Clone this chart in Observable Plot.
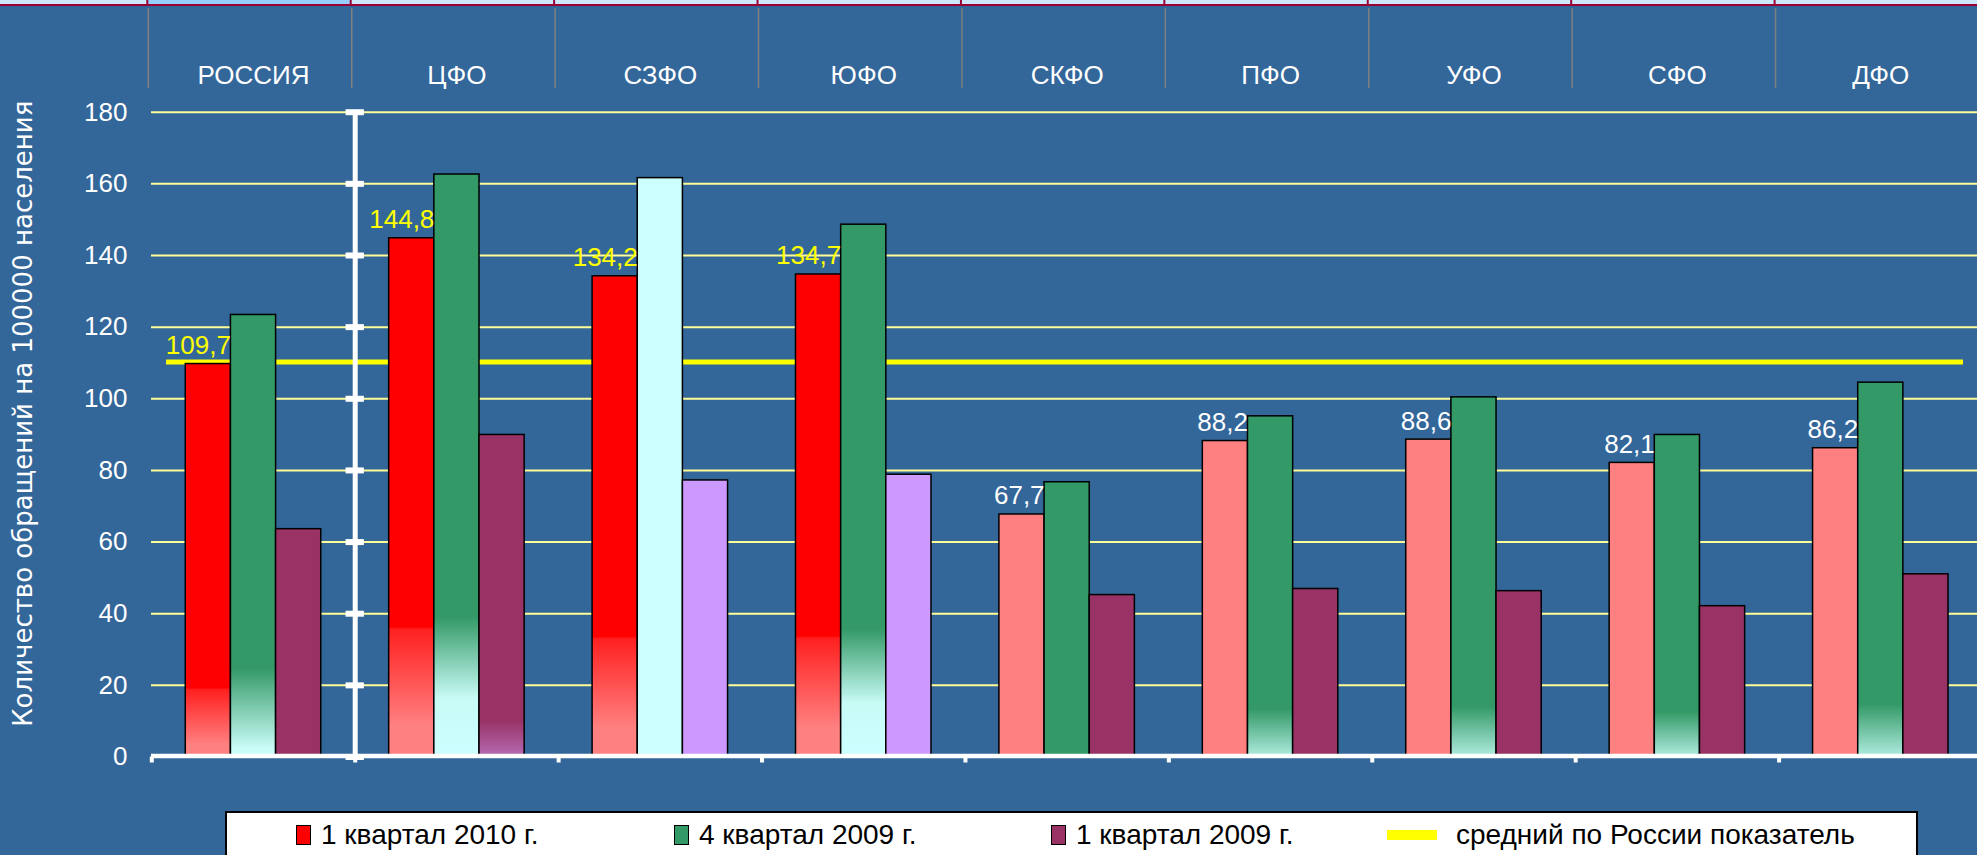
<!DOCTYPE html>
<html><head><meta charset="utf-8">
<script src="https://cdn.jsdelivr.net/npm/d3@7"></script>
<script src="https://cdn.jsdelivr.net/npm/@observablehq/plot@0.6"></script>
<style>
html,body{margin:0;padding:0;background:#336699;width:1977px;height:855px;overflow:hidden;font-family:"Liberation Sans",Arial,sans-serif;}
#chart svg{display:block}
#legendWrap{position:relative;height:50px;}
#legend{position:absolute;left:225px;top:6px;width:1693px;height:60px;background:#fff;border:2px solid #000;box-sizing:border-box;}
.item{position:absolute;top:7px;height:30px;line-height:30px;display:flex;align-items:center;font-size:28px;color:#000;white-space:nowrap;}
.sw{width:15px;height:20px;border:1.5px solid #000;box-sizing:border-box;margin-right:10px;}
.ln{width:50px;height:10px;background:#ffff00;margin-right:19px;}
</style></head><body>
<div id="chart"></div>
<div id="legendWrap"><div id="legend"></div></div>
<script>
// ---- data ----
const regions = ["РОССИЯ", "ЦФО", "СЗФО", "ЮФО", "СКФО", "ПФО", "УФО", "СФО", "ДФО"];
const seriesNames = ["1 квартал 2010 г.", "4 квартал 2009 г.", "1 квартал 2009 г."];
const q1_2010 = [109.7, 144.8, 134.2, 134.7, 67.7, 88.2, 88.6, 82.1, 86.2];
const q4_2009 = [123.4, 162.6, 161.6, 148.6, 76.7, 95.1, 100.4, 89.9, 104.5];
const q1_2009 = [63.6, 89.9, 77.2, 78.8, 45.2, 46.9, 46.3, 42.1, 51.0];
const russiaAverage = 110.3;
const averageName = "средний по России показатель";
const yTicks = [0, 20, 40, 60, 80, 100, 120, 140, 160, 180];
const yTitle = "Количество обращений на 100000 населения";

// ---- styles ----
const seriesColors = ["#ff0000", "#339966", "#993366"];
const barFills = [
  ["url(#gRedR)", "url(#gRed)", "url(#gRed)", "url(#gRed)", "#ff8080", "#ff8080", "#ff8080", "#ff8080", "#ff8080"],
  ["url(#gGreenR)", "url(#gGreenA)", "#ccffff", "url(#gGreenA)", "#339966", "url(#gGreenB)", "url(#gGreenB)", "url(#gGreenB)", "url(#gGreenB)"],
  ["#993366", "url(#gPurple)", "#cc99ff", "#cc99ff", "#993366", "#993366", "#993366", "#993366", "#993366"]
];
const labelColors = ["#ffff00", "#ffff00", "#ffff00", "#ffff00", "#ffffff", "#ffffff", "#ffffff", "#ffffff", "#ffffff"];
const barOffset = 0.167, barWidth = 0.222, tickHalf = 0.045;

const seriesValues = [q1_2010, q4_2009, q1_2009];
const rows = [];
regions.forEach((r, i) => seriesValues.forEach((vals, s) =>
  rows.push({region: r, i, s, series: seriesNames[s], value: vals[i]})));

const fmt = v => v.toFixed(1).replace(".", ",");

const plot = Plot.plot({
  width: 1977, height: 805,
  marginLeft: 151, marginRight: 0, marginTop: 112, marginBottom: 48.5,
  style: {background: "transparent", fontFamily: "'Liberation Sans', Arial, sans-serif", fontSize: "26px", color: "white", overflow: "visible"},
  x: {type: "linear", domain: [0, regions.length], range: [151.3, 1982]},
  y: {domain: [0, 180], range: [756.5, 111.7]},
  color: {type: "identity"},
  marks: [
    Plot.ruleY(yTicks.filter(d => d > 0), {stroke: "#ffff99", strokeWidth: 2}),
    Plot.ruleY([russiaAverage], {stroke: "#ffff00", strokeWidth: 5, insetLeft: 15, insetRight: 14}),
    Plot.rect(rows, {
      x1: d => d.i + barOffset + d.s * barWidth,
      x2: d => d.i + barOffset + (d.s + 1) * barWidth,
      y1: 0, y2: "value",
      fill: d => barFills[d.s][d.i],
      stroke: "#000", strokeWidth: 1.5
    }),
    Plot.text(rows.filter(d => d.s === 0), {
      x: d => d.i + barOffset + barWidth, y: "value",
      text: d => fmt(d.value), textAnchor: "end", lineAnchor: "bottom", dy: -10,
      fill: d => labelColors[d.i], fontSize: 26
    }),
    Plot.ruleX([1], {stroke: "white", strokeWidth: 5}),
    Plot.ruleY(yTicks, {x1: 1 - tickHalf, x2: 1 + tickHalf, stroke: "white", strokeWidth: 6}),
    Plot.ruleY([0], {stroke: "white", strokeWidth: 4.5, dy: -1}),
    Plot.axisX({ticks: d3.range(regions.length + 1), tickSize: 6, tickFormat: () => "", stroke: "white", strokeWidth: 4, label: null}),
    Plot.axisY({ticks: yTicks, tickSize: 0, tickPadding: 24, fontSize: 26, fill: "white", label: null}),
    Plot.text(regions, {x: (d, i) => i + 0.5, frameAnchor: "top", dy: -29, lineAnchor: "bottom", fill: "white", fontSize: 26}),
    Plot.text([yTitle], {frameAnchor: "left", textAnchor: "middle", rotate: -90, dx: -128, dy: -21, fill: "white", fontSize: 26, fontFamily: "DejaVu Sans"})
  ]
});
document.getElementById("chart").appendChild(plot);

// gradients
const svg = d3.select(plot);
const defs = svg.insert("defs", ":first-child");
function grad(id, stops) {
  const g = defs.append("linearGradient").attr("id", id).attr("x1", 0).attr("y1", 0).attr("x2", 0).attr("y2", 1);
  stops.forEach(([o, c]) => g.append("stop").attr("offset", o).attr("stop-color", c));
}
grad("gRed", [[0, "#ff0000"], [0.75, "#ff0000"], [0.755, "#ff2020"], [0.94, "#ff8080"], [1, "#ff8080"]]);
grad("gRedR", [[0, "#ff0000"], [0.825, "#ff0000"], [0.83, "#ff2020"], [0.97, "#ff8080"], [1, "#ff8080"]]);
grad("gGreenA", [[0, "#339966"], [0.76, "#339966"], [0.9, "#c8fbf6"], [1, "#ccffff"]]);
grad("gGreenR", [[0, "#339966"], [0.8, "#339966"], [0.98, "#c8fbf6"], [1, "#ccffff"]]);
grad("gGreenB", [[0, "#339966"], [0.86, "#339966"], [1, "#b0ece0"]]);
grad("gPurple", [[0, "#993366"], [0.89, "#993366"], [1, "#b56cb5"]]);

// header strip and separators, positioned with the x scale
const xs = plot.scale("x");
const px = v => xs.apply(v);
const header = svg.insert("g", "defs + *").attr("class", "header");
header.append("rect").attr("x", 0).attr("y", 0).attr("width", 1977).attr("height", 5).attr("fill", "#cfe7fb");
header.append("rect").attr("x", px(0) - 4).attr("y", 0).attr("width", px(1) - px(0)).attr("height", 5).attr("fill", "#99ccff");
header.append("line").attr("x1", 0).attr("x2", 1977).attr("y1", 5).attr("y2", 5).attr("stroke", "#990033").attr("stroke-width", 2);
d3.range(regions.length + 1).forEach(i => {
  header.append("line").attr("x1", px(i) - 4).attr("x2", px(i) - 4).attr("y1", 0).attr("y2", 5).attr("stroke", "#990033").attr("stroke-width", 2);
  header.append("line").attr("x1", px(i) - 3).attr("x2", px(i) - 3).attr("y1", 8).attr("y2", 88).attr("stroke", "#808080").attr("stroke-width", 1.5);
});

// legend
const legend = d3.select("#legend");
const legendLefts = [69, 447, 824, 1160];
seriesNames.forEach((name, k) => {
  const it = legend.append("div").attr("class", "item").style("left", legendLefts[k] + "px");
  it.append("div").attr("class", "sw").style("background", seriesColors[k]);
  it.append("span").text(name);
});
const la = legend.append("div").attr("class", "item").style("left", legendLefts[3] + "px");
la.append("div").attr("class", "ln");
la.append("span").text(averageName);
</script>
</body></html>
